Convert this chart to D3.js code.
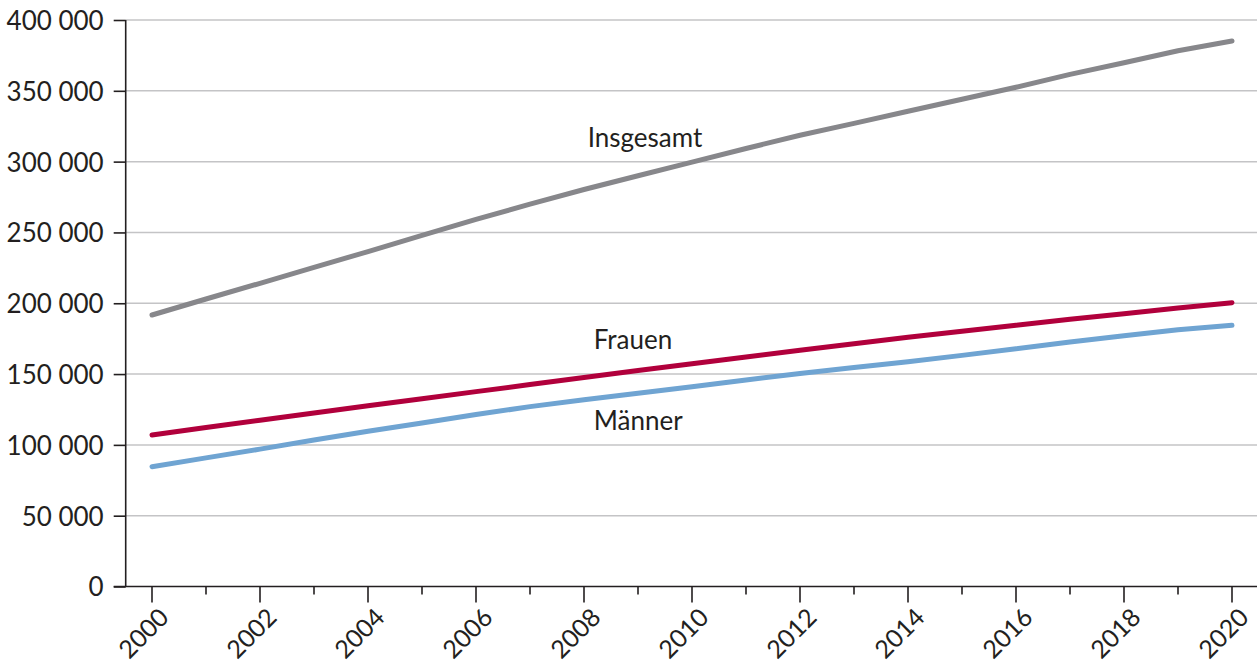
<!DOCTYPE html>
<html>
<head>
<meta charset="utf-8">
<script src="https://cdn.jsdelivr.net/npm/d3@7"></script>
<style>
  html, body { margin: 0; padding: 0; background: #ffffff; }
  svg { display: block; }
  text { font-family: Lato, "Open Sans", sans-serif; fill: #231f20; }
</style>
</head>
<body>
<svg id="chart" width="1257" height="667"></svg>
<script>
// Jahre 2000–2020
const years = d3.range(2000, 2021);

// Werte je Jahr
const insgesamt = [191700, 203000, 214100, 225300, 236500, 248000, 259200, 270000, 280300, 290000,
                   299700, 309300, 318600, 327000, 335600, 344000, 352500, 361600, 369800, 378300, 385200];
const frauen    = [107000, 112300, 117400, 122500, 127600, 132600, 137600, 142600, 147600, 152500,
                   157300, 162100, 166800, 171400, 176000, 180300, 184500, 188700, 192600, 196600, 200400];
const maenner   = [84600, 90800, 97000, 103400, 109600, 115500, 121400, 127000, 131900, 136500,
                   141000, 145800, 150400, 154600, 158700, 163200, 167900, 172600, 177000, 181300, 184400];

const yTicks = [0, 50000, 100000, 150000, 200000, 250000, 300000, 350000, 400000];
const xLabelYears = d3.range(2000, 2021, 2);

const seriesNames = ["Insgesamt", "Frauen", "Männer"];
const seriesColors = ["#87878b", "#b1003c", "#6fa4d2"];

const svg = d3.select("#chart");
const W = 1257;
const axisX = 125.7;
const fontSize = "26px";

const x = d3.scaleLinear().domain([2000, 2020]).range([152, 1232]);
const y = d3.scaleLinear().domain([0, 400000]).range([586.5, 20]);

const fmt = v => d3.format(",")(v).replace(/,/g, " ");

// Gitterlinien
svg.append("g")
  .selectAll("line")
  .data(yTicks.filter(v => v > 0))
  .join("line")
  .attr("x1", axisX).attr("x2", W)
  .attr("y1", d => y(d)).attr("y2", d => y(d))
  .attr("stroke", "#c4c4c6")
  .attr("stroke-width", 1.5);

// Y-Achse
const yAxis = svg.append("g")
  .attr("transform", `translate(${axisX},0)`)
  .call(d3.axisLeft(y).tickValues(yTicks).tickSize(12).tickPadding(10).tickFormat(fmt));
yAxis.select(".domain").attr("stroke", "#231f20").attr("stroke-width", 1.6)
  .attr("d", `M0,${y(400000)}V${y(0)}`);
yAxis.selectAll(".tick line").attr("stroke", "#231f20").attr("stroke-width", 1.6);
yAxis.selectAll(".tick text")
  .style("font-family", "Lato, 'Open Sans', sans-serif")
  .style("font-size", fontSize)
  .attr("fill", "#231f20")
  .attr("dy", "0.36em");

// X-Achse
const xAxisG = svg.append("g").attr("transform", `translate(0,${y(0)})`);
xAxisG.append("line")
  .attr("x1", axisX - 12).attr("x2", W)
  .attr("y1", 0).attr("y2", 0)
  .attr("stroke", "#231f20").attr("stroke-width", 1.6);
xAxisG.selectAll("line.tk")
  .data(years)
  .join("line")
  .attr("class", "tk")
  .attr("x1", d => x(d)).attr("x2", d => x(d))
  .attr("y1", 0).attr("y2", d => (d % 2 === 0 ? 16 : 8))
  .attr("stroke", "#231f20").attr("stroke-width", 1.6);
xAxisG.selectAll("text")
  .data(xLabelYears)
  .join("text")
  .attr("transform", d => `translate(${x(d) + 6},${20}) rotate(-45)`)
  .attr("text-anchor", "end")
  .attr("dy", "0.7em")
  .style("font-size", "25px")
  .text(d => d);

// Linien
const allSeries = [insgesamt, frauen, maenner];
const line = d3.line()
  .x((d, i) => x(years[i]))
  .y(d => y(d));

svg.append("g")
  .selectAll("path")
  .data(allSeries)
  .join("path")
  .attr("d", d => line(d))
  .attr("fill", "none")
  .attr("stroke", (d, i) => seriesColors[i])
  .attr("stroke-width", 5)
  .attr("stroke-linecap", "round")
  .attr("stroke-linejoin", "round");

// Beschriftungen der Linien
const labelPos = [
  { name: seriesNames[0], year: 2008.07, value: 310500 },
  { name: seriesNames[1], year: 2008.18, value: 167500 },
  { name: seriesNames[2], year: 2008.18, value: 110800 }
];
svg.append("g")
  .selectAll("text")
  .data(labelPos)
  .join("text")
  .attr("x", d => x(d.year))
  .attr("y", d => y(d.value))
  .style("font-size", fontSize)
  .text(d => d.name);
</script>
</body>
</html>
